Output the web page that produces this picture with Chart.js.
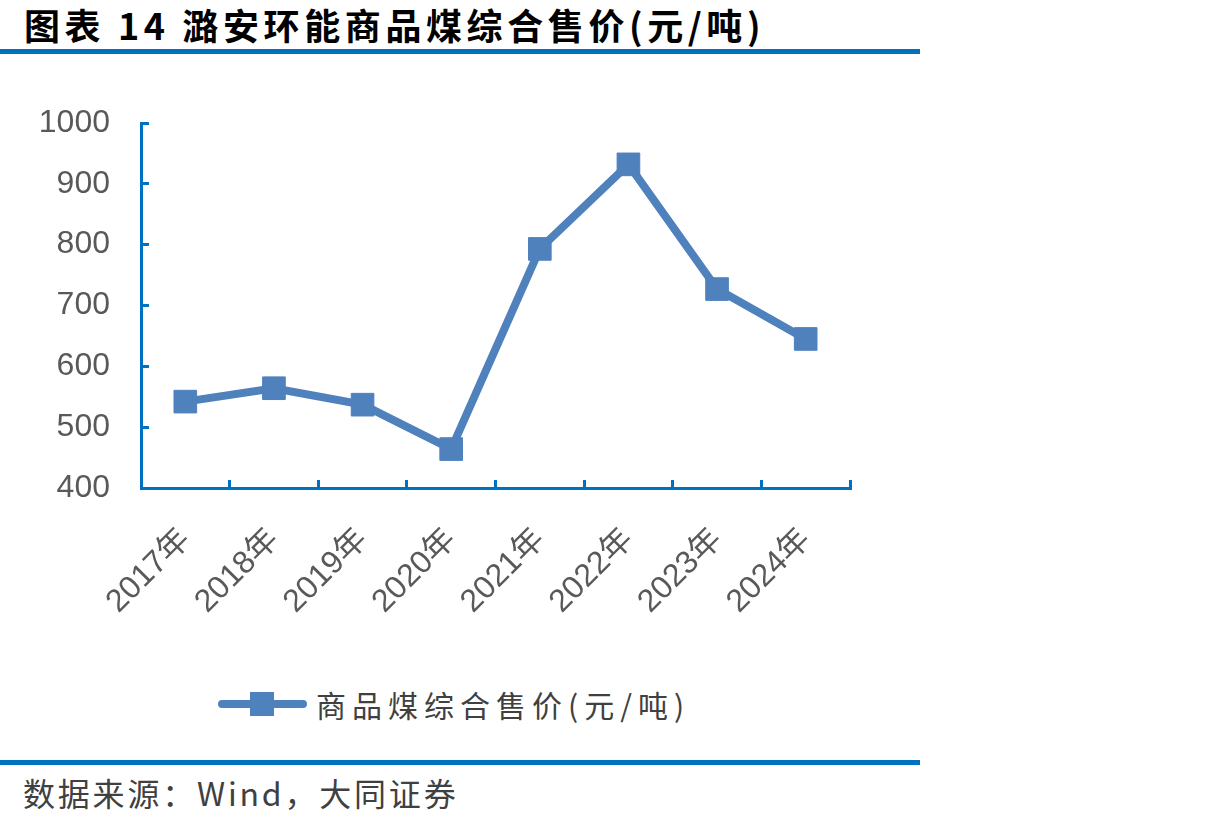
<!DOCTYPE html>
<html>
<head>
<meta charset="utf-8">
<script src="https://cdn.jsdelivr.net/npm/chart.js@4.4.1/dist/chart.umd.min.js"></script>
<style>
  body {
    margin: 0;
    width: 1218px;
    height: 824px;
    background: #ffffff;
    position: relative;
    overflow: hidden;
    font-family: "Noto Sans CJK SC", sans-serif;
  }
  .title {
    position: absolute;
    left: 24px;
    top: 0px;
    font-size: 36px;
    font-weight: bold;
    letter-spacing: 4.6px;
    line-height: 48px;
    color: #000000;
    white-space: nowrap;
  }
  .rule {
    position: absolute;
    left: 0;
    width: 920px;
    height: 5px;
    background: #0070C0;
  }
  .chart-box {
    position: absolute;
    left: 0;
    top: 60px;
    width: 900px;
    height: 578px;
  }
  #chart-legend {
    position: absolute;
    left: 218px;
    top: 684px;
    height: 40px;
  }
  #chart-legend ul {
    list-style: none;
    margin: 0;
    padding: 0;
    display: flex;
  }
  .source {
    position: absolute;
    left: 23px;
    top: 770px;
    font-size: 32px;
    letter-spacing: 2.8px;
    line-height: 44px;
    color: #404040;
    white-space: nowrap;
  }
</style>
</head>
<body>
<div class="title">图表 14 潞安环能商品煤综合售价(元/吨)</div>
<div class="rule" style="top:49px;"></div>

<div class="chart-box"><canvas id="price-chart"></canvas></div>
<div id="chart-legend"><ul></ul></div>

<div class="rule" style="top:760px;"></div>
<div class="source">数据来源：Wind，大同证券</div>

<script>
// Data
const years = ['2017年', '2018年', '2019年', '2020年', '2021年', '2022年', '2023年', '2024年'];
const avgPrice = [542, 564, 537, 464, 793, 932, 727, 645];
const yTicks = [400, 500, 600, 700, 800, 900, 1000];
const seriesName = '商品煤综合售价(元/吨)';

const axisBlue = '#0070C0';
const lineBlue = '#4F81BD';

Chart.defaults.font.family = '"Liberation Sans", "Noto Sans CJK SC", sans-serif';
Chart.defaults.color = '#595959';
Chart.defaults.animation = false;

const ctx = document.getElementById('price-chart');

const chart = new Chart(ctx, {
  type: 'line',
  data: {
    labels: years,
    datasets: [{
      label: seriesName,
      data: avgPrice,
      borderColor: lineBlue,
      backgroundColor: lineBlue,
      borderWidth: 8,
      pointStyle: 'rect',
      pointRadius: 16,
      pointHoverRadius: 16,
      pointBorderWidth: 1,
      pointBackgroundColor: lineBlue,
      pointBorderColor: lineBlue,
      tension: 0,
      fill: false,
    }]
  },
  options: {
    responsive: true,
    maintainAspectRatio: false,
    layout: {
      padding: {
        top: 63,
        right: 50,
        bottom: 0,
        left: 0,
      },
    },
    scales: {
      x: {
        offset: true,
        grid: {
          offset: true,
          drawOnChartArea: false,
          drawTicks: true,
          tickLength: -8, // ticks point inward
          tickWidth: 3,
          tickColor: axisBlue,
        },
        border: {
          color: axisBlue,
          width: 3,
        },
        ticks: {
          minRotation: 45,
          maxRotation: 45,
          padding: 41,
          font: { size: 32 },
          color: '#595959',
        },
        afterFit: (s) => { s.height = 150; },
      },
      y: {
        min: yTicks[0],
        max: yTicks[yTicks.length - 1],
        grid: {
          drawOnChartArea: false,
          drawTicks: true,
          tickLength: -8,
          tickWidth: 3,
          tickColor: axisBlue,
        },
        border: {
          color: axisBlue,
          width: 3,
        },
        ticks: {
          stepSize: 100,
          padding: 39,
          font: { size: 32 },
          color: '#595959',
          callback: (value) => String(value),
        },
        afterFit: (s) => { s.width = 141; },
      },
    },
    plugins: {
      legend: { display: false },
      tooltip: { enabled: false },
      htmlLegend: {
        containerID: 'chart-legend',
      },
    },
  },
  plugins: [{
    id: 'htmlLegend',
    afterUpdate(c, args, options) {
      const ul = document.getElementById(options.containerID).querySelector('ul');
      if (!ul) return;
      while (ul.firstChild) ul.firstChild.remove();
      c.data.datasets.forEach((ds) => {
        const li = document.createElement('li');
        li.style.display = 'flex';
        li.style.alignItems = 'center';
        // line + square marker
        const sym = document.createElement('span');
        sym.style.position = 'relative';
        sym.style.display = 'block';
        sym.style.width = '89px';
        sym.style.height = '40px';
        sym.style.marginRight = '9px';
        const bar = document.createElement('span');
        bar.style.position = 'absolute';
        bar.style.left = '0';
        bar.style.top = '16px';
        bar.style.width = '89px';
        bar.style.height = '8px';
        bar.style.borderRadius = '4px';
        bar.style.background = ds.borderColor;
        const box = document.createElement('span');
        box.style.position = 'absolute';
        box.style.left = '32px';
        box.style.top = '8px';
        box.style.width = '24px';
        box.style.height = '24px';
        box.style.background = ds.pointBackgroundColor;
        sym.appendChild(bar);
        sym.appendChild(box);
        // label
        const label = document.createElement('span');
        label.style.fontFamily = '"Noto Sans CJK SC", sans-serif';
        label.style.fontSize = '30px';
        label.style.letterSpacing = '6px';
        label.style.lineHeight = '40px';
        label.style.color = '#404040';
        label.appendChild(document.createTextNode(ds.label));
        li.appendChild(sym);
        li.appendChild(label);
        ul.appendChild(li);
      });
    },
  }],
});
</script>
</body>
</html>
